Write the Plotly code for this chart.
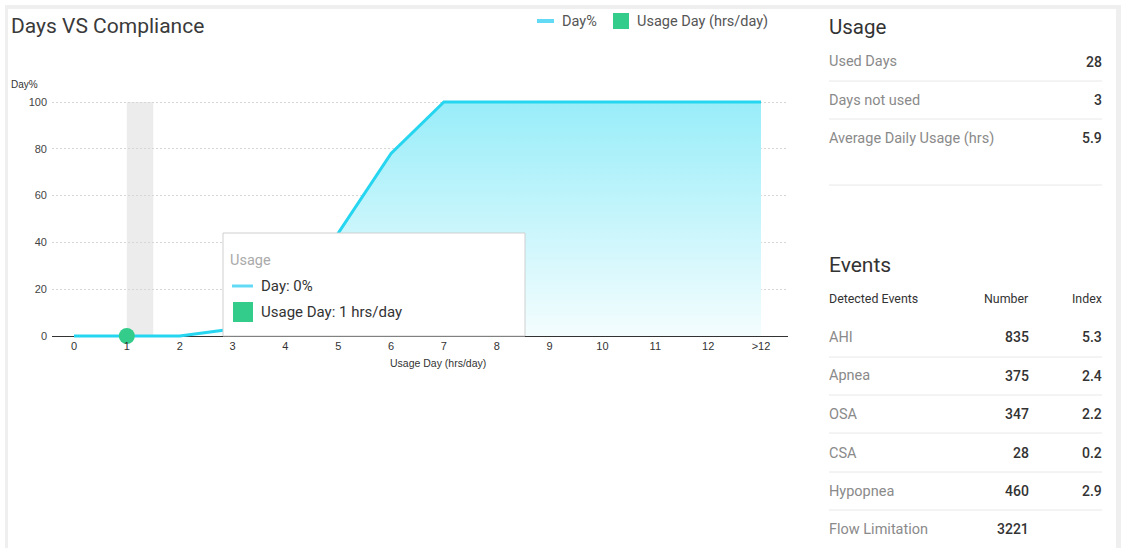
import plotly.graph_objects as go

# ---- data -------------------------------------------------------------
categories = ["0", "1", "2", "3", "4", "5", "6", "7", "8", "9", "10", "11", "12", ">12"]
day_pct = [0, 0, 0, 3, 14, 44, 78, 100, 100, 100, 100, 100, 100, 100]
hovered_index = 1
hovered_usage_hours = 1

usage_labels = ["Used Days", "Days not used", "Average Daily Usage (hrs)"]
usage_values = ["28", "3", "5.9"]

event_names = ["AHI", "Apnea", "OSA", "CSA", "Hypopnea", "Flow Limitation"]
event_numbers = ["835", "375", "347", "28", "460", "3221"]
event_index = ["5.3", "2.4", "2.2", "0.2", "2.9", ""]

# ---- page geometry (pixels) ---------------------------------------------
W, H = 1121, 548
PL, PR, PT, PB = 52, 788, 100, 338  # plot area box

CYAN = "#26d5ef"
CYAN_LEGEND = "#62daf5"
GREEN = "#33cc8a"
FONT = "Roboto"
TICK_FONT = "Liberation Sans"


def px(x):
    return (x - PL) / (PR - PL)


def py(y):
    return (PB - y) / (PB - PT)


x_vals = list(range(len(categories)))

fig = go.Figure()

fig.add_trace(go.Scatter(
    x=x_vals, y=day_pct, mode="lines", name="Day%",
    line=dict(color=CYAN, width=3),
    fill="tozeroy",
    fillgradient=dict(type="vertical",
                      colorscale=[[0, "rgba(244,253,254,1)"], [1, "rgb(152,237,249)"]],
                      start=0, stop=100),
    showlegend=False, hoverinfo="skip",
))

# hovered point marker
fig.add_trace(go.Scatter(
    x=[x_vals[hovered_index]], y=[day_pct[hovered_index]], mode="markers",
    marker=dict(color=GREEN, size=16, line=dict(width=0)),
    showlegend=False, hoverinfo="skip", cliponaxis=False,
))

shapes = []
annotations = []


def text(t, x, y, anchor, size, color, weight=None, family=FONT):
    f = dict(family=family, size=size, color=color)
    if weight:
        f["weight"] = weight
    shift = -2 if anchor == "left" else (2 if anchor == "right" else 0)
    annotations.append(dict(text=t, xref="paper", yref="paper", x=px(x), y=py(y),
                            xanchor=anchor, yanchor="middle", xshift=shift,
                            showarrow=False, font=f))


# card frame
shapes.append(dict(type="rect", xref="paper", yref="paper", layer="below",
                   x0=px(5), x1=px(W + 5), y0=py(5), y1=py(H + 5),
                   fillcolor="#efefef", line=dict(width=0)))
shapes.append(dict(type="rect", xref="paper", yref="paper", layer="below",
                   x0=px(8), x1=px(1116), y0=py(9), y1=py(H + 5),
                   fillcolor="white", line=dict(width=0)))

# hover highlight band
shapes.append(dict(type="rect", xref="x", yref="y", layer="below",
                   x0=hovered_index, x1=hovered_index + 0.5, y0=0, y1=100,
                   fillcolor="#ececec", line=dict(width=0)))

# title
text("Days VS Compliance", 11, 26, "left", 21, "#3a3a3a")

# legend
shapes.append(dict(type="line", xref="paper", yref="paper", layer="above",
                   x0=px(537), x1=px(554), y0=py(21), y1=py(21),
                   line=dict(color=CYAN_LEGEND, width=4)))
text("Day%", 562, 21, "left", 14.5, "#555")
shapes.append(dict(type="rect", xref="paper", yref="paper", layer="above",
                   x0=px(613), x1=px(629), y0=py(13), y1=py(29),
                   fillcolor=GREEN, line=dict(width=0)))
text("Usage Day (hrs/day)", 637, 21, "left", 14.5, "#555")

# axis titles
text("Day%", 11, 84, "left", 10, "#333", family=TICK_FONT)
text("Usage Day (hrs/day)", 438, 363, "center", 10.5, "#333", family=TICK_FONT)

# tooltip
shapes.append(dict(type="rect", xref="paper", yref="paper", layer="above",
                   x0=px(223), x1=px(525), y0=py(233), y1=py(336),
                   fillcolor="white", line=dict(color="#cfcfcf", width=1)))
text("Usage", 230, 260, "left", 14.5, "#aaaaaa")
shapes.append(dict(type="line", xref="paper", yref="paper", layer="above",
                   x0=px(232), x1=px(253), y0=py(286), y1=py(286),
                   line=dict(color=CYAN_LEGEND, width=3)))
text(f"Day: {day_pct[hovered_index]}%", 261, 286, "left", 15, "#333")
shapes.append(dict(type="rect", xref="paper", yref="paper", layer="above",
                   x0=px(233), x1=px(253), y0=py(302), y1=py(322),
                   fillcolor=GREEN, line=dict(width=0)))
text(f"Usage Day: {hovered_usage_hours} hrs/day", 261, 312, "left", 15, "#333")

# ---- right-hand panels ---------------------------------------------------
RX0, RX1 = 829, 1102
SEP = "#e8e8e8"


def sep(y):
    shapes.append(dict(type="line", xref="paper", yref="paper", layer="above",
                       x0=px(RX0), x1=px(RX1), y0=py(y), y1=py(y),
                       line=dict(color=SEP, width=1)))


text("Usage", RX0, 27, "left", 20.5, "#333")
usage_rows_y = [62, 100, 138]
for label, val, y in zip(usage_labels, usage_values, usage_rows_y):
    text(label, RX0, y, "left", 14.5, "#8a8a8a")
    text(val, RX1, y, "right", 14, "#333", 500)
for y in [81, 119, 185]:
    sep(y)

text("Events", RX0, 265, "left", 21, "#333")
text("Detected Events", RX0, 298, "left", 12.4, "#333")
text("Number", 1029, 298, "right", 12.4, "#333")
text("Index", RX1, 298, "right", 12.4, "#333")
event_rows_y = [337, 376, 414, 453, 491, 529]
for name, num, idx, y in zip(event_names, event_numbers, event_index, event_rows_y):
    text(name, RX0, y, "left", 14.5, "#8a8a8a")
    text(num, 1029, y, "right", 14, "#333", 500)
    if idx:
        text(idx, RX1, y, "right", 14, "#333", 500)
for y in [357, 395, 433, 472, 510]:
    sep(y)

# ---- layout ---------------------------------------------------------------
y_per_px = 100 / 234
fig.update_layout(
    width=W, height=H,
    margin=dict(l=PL, r=W - PR, t=PT, b=H - PB, pad=0),
    paper_bgcolor="white", plot_bgcolor="rgba(0,0,0,0)",
    showlegend=False,
    shapes=shapes, annotations=annotations,
    xaxis=dict(
        range=[-(74 - PL) / 52.85, 13 + (PR - 761) / 52.85],
        tickvals=x_vals, ticktext=categories,
        showgrid=False, zeroline=False, showline=False, ticks="",
        tickfont=dict(family=TICK_FONT, size=11, color="#333"),
        fixedrange=True,
    ),
    yaxis=dict(
        range=[-(PB - 336) * y_per_px, 100 + (102 - PT) * y_per_px],
        tickvals=[0, 20, 40, 60, 80, 100],
        showgrid=True, gridcolor="#d6d6d6", griddash="2px,2px", gridwidth=1,
        zeroline=True, zerolinecolor="#333", zerolinewidth=1,
        showline=False, ticks="", ticklabelstandoff=4,
        tickfont=dict(family=TICK_FONT, size=11, color="#444"),
        fixedrange=True,
    ),
)

fig.write_html("out.html")
